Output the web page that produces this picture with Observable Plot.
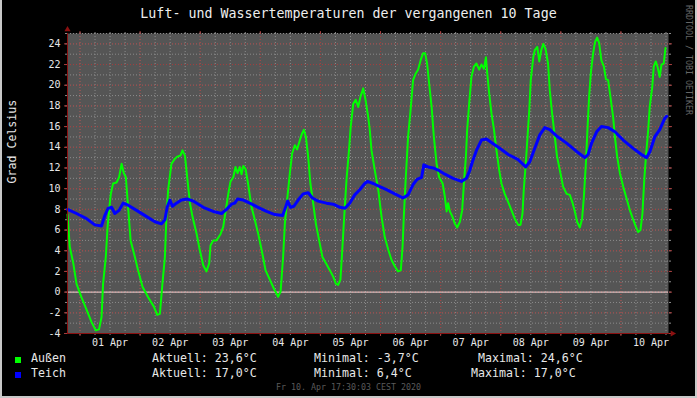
<!DOCTYPE html>
<html>
<head>
<meta charset="utf-8">
<script src="https://cdn.jsdelivr.net/npm/d3@7"></script>
<script src="https://cdn.jsdelivr.net/npm/@observablehq/plot@0.6"></script>
<style>
  body { margin: 0; background: #000; }
  #wrap { position: relative; width: 697px; height: 398px; background: #000; overflow: hidden;
          font-family: "DejaVu Sans Mono", monospace; color: #e8e8e8; }
  .edge { position: absolute; background: #c8c8c8; }
  #title { position: absolute; top: 6px; left: 0; width: 697px; text-align: center;
           font-size: 13.3px; line-height: 16px; white-space: pre; color: #eeeeee; }
  #chart { position: absolute; top: 24px; left: 0; }
  .lg { position: absolute; font-size: 11.6px; line-height: 14px; white-space: pre; }
  .sw { position: absolute; width: 6px; height: 6px; }
  #stamp { position: absolute; top: 382px; left: 0; width: 697px; text-align: center;
           font-size: 8.3px; line-height: 10px; color: #5a5a5a; white-space: pre; }
  #mark { position: absolute; left: 684px; top: 5px; writing-mode: vertical-rl;
          font-size: 8.3px; line-height: 10px; color: #666666; white-space: pre; }
</style>
</head>
<body>
<div id="wrap">
  <div class="edge" style="left:0;top:0;width:2px;height:398px"></div>
  <div class="edge" style="right:0;top:0;width:2px;height:398px"></div>
  <div class="edge" style="left:0;bottom:0;width:697px;height:2px"></div>
  <div id="title"></div>
  <div id="chart"></div>
  <div id="legend"></div>
  <div id="stamp"></div>
  <div id="mark"></div>
</div>
<script>
// ---------- data (hours after 31 Mar 19:00, °C) ----------
const titleText = "Luft- und Wassertemperaturen der vergangenen 10 Tage";
const yAxisLabel = "Grad Celsius";
const stampText = "Fr 10. Apr 17:30:03 CEST 2020";
const watermark = "RRDTOOL / TOBI OETIKER";
const dayLabels = ["01 Apr","02 Apr","03 Apr","04 Apr","05 Apr","06 Apr","07 Apr","08 Apr","09 Apr","10 Apr"];

const aussen = [
  [0,7.5],[0.9,4.4],[2.3,2.8],[3.6,0.8],[5.6,-0.5],[7.6,-1.7],[9.6,-2.9],[11.3,-3.7],[12.6,-3.6],[13.6,-2.4],
  [14.2,0.8],[15.3,3.4],[16.0,6.3],[16.6,7.9],[17.3,9.5],[18.2,10.5],[19.6,10.6],[20.6,11.1],[21.6,12.4],[22.5,11.5],
  [23.3,11.1],[24.2,8.2],[25.2,5.0],[26.9,3.4],[28.2,2.1],[30.0,0.5],[32.2,-0.5],[34.5,-1.4],[35.8,-2.2],[36.9,-2.1],
  [37.9,0.8],[38.9,3.4],[39.5,7.3],[40.2,9.9],[41.5,12.4],[42.9,12.9],[43.9,13.1],[45.1,13.2],[45.9,13.7],[46.9,13.2],
  [47.8,11.1],[48.9,8.6],[49.9,7.3],[51.5,5.7],[52.8,4.1],[54.2,2.6],[55.5,2.0],[56.6,2.8],[57.1,4.5],[58.2,5.0],
  [59.5,5.0],[61.1,5.6],[62.2,6.3],[63.2,7.9],[64.2,9.5],[65.1,10.7],[66.2,11.1],[67.1,12.1],[67.9,11.5],[68.8,12.1],
  [69.5,11.4],[70.2,12.2],[71.1,11.9],[72.1,10.5],[73.5,8.2],[74.8,7.0],[76.1,5.7],[77.5,4.1],[79.1,2.1],[80.8,1.2],
  [82.4,0.35],[84.1,-0.45],[85.1,0.05],[86.1,3.4],[86.8,6.6],[87.7,8.9],[88.8,11.5],[89.7,13.4],[90.8,14.2],[91.7,13.8],
  [92.8,14.7],[93.6,15.3],[94.4,15.7],[95.2,15.0],[96.1,13.1],[97.0,10.5],[98.1,8.6],[99.2,6.6],[100.5,5.0],[101.8,3.4],
  [103.2,2.8],[104.8,2.1],[106.1,1.5],[107.2,0.8],[108.1,0.7],[109.0,1.2],[109.8,4.4],[110.5,7.3],[111.4,10.8],[112.5,14.0],
  [113.1,16.0],[114.1,18.2],[115.1,18.6],[116.1,17.9],[117.0,18.9],[118.1,19.7],[119.0,18.6],[120.1,16.9],
  [120.7,15.7],[121.4,13.7],[122.7,11.8],[124.1,9.9],[125.4,7.3],[126.7,5.3],[128.1,4.1],[129.4,3.1],[130.7,2.5],[132.0,2.0],
  [133.1,2.1],[133.8,4.4],[134.3,7.3],[135.1,11.1],[136.0,15.0],[137.0,17.6],[138.0,20.5],[139.0,21.1],[140.0,21.5],[141.0,22.4],
  [142.0,23.1],[142.8,23.1],[143.6,22.1],[144.4,20.2],[145.4,17.9],[146.3,15.0],[147.4,12.4],[148.4,11.1],[149.8,10.5],[150.7,9.2],
  [151.4,7.8],[152.0,8.6],[152.7,7.8],[153.7,7.3],[154.7,6.6],[155.6,6.25],[156.7,6.8],[157.6,7.9],[158.3,10.5],[159.1,13.1],
  [159.6,15.7],[160.4,18.2],[161.3,20.8],[162.3,21.8],[163.3,22.1],[164.4,21.5],[165.3,22.0],[166.3,21.6],[167.1,22.7],[167.6,21.2],
  [168.4,19.2],[169.3,17.3],[170.3,15.7],[171.3,13.7],[172.4,11.8],[173.3,10.5],[174.6,9.5],[176.0,8.7],[177.3,7.9],[178.6,7.1],
  [180.0,6.5],[180.9,6.5],[181.7,7.6],[182.2,9.9],[183.0,12.4],[183.7,15.0],[184.4,17.6],[185.0,20.5],[186.0,22.7],[186.6,23.4],
  [187.6,23.7],[188.4,22.3],[189.2,23.4],[190.0,24.0],[190.9,23.5],[191.9,22.1],[192.6,19.5],[193.5,17.3],[194.6,15.0],[195.5,13.1],
  [196.6,11.8],[197.9,10.2],[199.3,9.5],[200.6,9.4],[201.7,8.6],[202.6,7.8],[203.5,6.8],[204.6,6.25],[205.5,7.1],[206.2,9.2],
  [207.0,12.4],[207.7,16.0],[208.3,18.9],[209.0,21.2],[209.9,23.1],[210.7,24.2],[211.5,24.6],[212.3,24.1],[213.2,22.4],[214.2,21.8],
  [215.0,20.6],[215.9,20.5],[216.8,18.9],[217.9,16.9],[218.6,15.0],[219.5,13.1],[220.6,11.5],[221.9,10.2],[223.2,9.1],[224.6,7.9],
  [225.9,7.0],[227.0,6.3],[227.9,5.8],[228.8,6.0],[229.6,7.6],[230.3,10.8],[231.0,13.1],[231.9,15.7],[232.5,17.9],[233.5,19.8],
  [234.1,21.8],[234.9,22.3],[235.6,21.8],[236.5,20.8],[237.2,22.0],[238.1,22.1],[238.8,23.6]
];

const teich = [
  [0,8.0],[3.6,7.6],[7.6,7.1],[10.9,6.5],[13.6,6.4],[14.9,7.4],[16.2,8.1],[17.6,8.2],[18.9,7.6],[20.6,7.9],
  [22.2,8.6],[24.2,8.4],[27.6,7.9],[31.6,7.3],[34.9,6.8],[37.5,6.6],[38.9,7.0],[39.8,8.2],[40.9,8.9],[41.9,8.3],
  [43.5,8.6],[45.5,8.9],[47.8,9.0],[50.2,8.8],[54.2,8.2],[58.2,7.8],[61.5,7.6],[63.5,8.0],[65.5,8.5],[66.8,8.6],
  [67.9,9.0],[70.2,8.9],[72.8,8.6],[76.1,8.2],[79.5,7.8],[82.8,7.5],[85.9,7.4],[86.8,8.0],[87.9,8.8],[89.1,8.2],
  [90.4,8.3],[92.1,8.9],[94.1,9.5],[96.1,9.6],[97.8,9.1],[100.1,8.8],[103.4,8.6],[106.1,8.5],[108.8,8.2],[110.8,8.1],
  [112.7,8.6],[114.7,9.4],[116.7,9.9],[118.7,10.5],[119.8,10.7],[122.1,10.5],[124.7,10.2],[127.4,9.9],[130.7,9.5],[134.0,9.1],
  [136.0,9.4],[138.0,10.4],[139.6,10.9],[141.4,11.1],[142.3,12.3],[144.0,12.1],[146.0,12.0],[148.0,11.8],[150.7,11.4],[154.0,11.0],
  [157.3,10.7],[159.3,11.0],[160.7,11.8],[161.7,12.6],[163.3,13.7],[165.3,14.7],[167.3,14.8],[169.7,14.4],[172.6,13.9],[176.0,13.3],
  [180.0,12.8],[183.0,12.1],[184.6,12.6],[186.6,13.9],[188.6,15.2],[190.6,15.9],[192.6,15.7],[195.3,15.1],[199.3,14.4],[203.3,13.6],
  [206.6,13.0],[207.9,13.3],[209.3,14.4],[211.3,15.5],[213.2,16.0],[215.9,15.9],[218.6,15.5],[221.9,14.7],[225.9,13.9],[229.2,13.3],
  [231.2,13.0],[232.6,13.6],[234.5,15.0],[236.5,15.7],[238.5,16.8],[239.3,17.0]
];

const legendNames = ["Außen", "Teich"];
const legendColors = ["#00ff00", "#0000ff"];
const legendAktuell = ["23,6", "17,0"];
const legendMinimal = ["-3,7", "6,4"];
const legendMaximal = ["24,6", "17,0"];
const zeroLine = [0];

// ---------- derived ----------
const t0 = new Date(Date.UTC(2020, 2, 31, 19, 0));
const t1 = new Date(Date.UTC(2020, 3, 10, 19, 0));
const toDate = h => new Date(+t0 + h * 3600e3);
const aussenData = aussen.map(([h, v]) => ({t: toDate(h), v}));
const teichData = teich.map(([h, v]) => ({t: toDate(h), v}));

const xMinor = d3.utcHour.every(6).range(t0, t1);
const xMajor = d3.utcDay.range(t0, t1);
const labelDates = dayLabels.map((s, i) => new Date(Date.UTC(2020, 3, i + 1, 12)));
const labelByTime = new Map(labelDates.map((d, i) => [+d, dayLabels[i]]));
const yMinor = d3.range(-4, 26, 1);
const yMajor = d3.range(-4, 25, 2);

const MINOR = "#8c8c8c";
const MAJOR = "#a43c3c";
const AXIS = "#8b1010";
const TEXT = "#e8e8e8";

const chart = Plot.plot({
  width: 697,
  height: 336,
  marginTop: 9,
  marginRight: 29,
  marginBottom: 27,
  marginLeft: 67,
  style: {background: "transparent", fontFamily: "DejaVu Sans Mono", fontSize: "10px", color: TEXT, overflow: "visible"},
  x: {type: "utc", domain: [t0, t1], label: null},
  y: {domain: [-4, 25], label: null},
  marks: [
    Plot.frame({fill: "#555555", stroke: null}),
    Plot.gridX(xMinor, {stroke: MINOR, strokeOpacity: 1, strokeDasharray: "1,2"}),
    Plot.gridY(yMinor, {stroke: MINOR, strokeOpacity: 1, strokeDasharray: "1,2"}),
    Plot.gridX(xMajor, {stroke: MAJOR, strokeOpacity: 1, strokeDasharray: "1,2"}),
    Plot.gridY(yMajor, {stroke: MAJOR, strokeOpacity: 1, strokeDasharray: "1,2"}),
    Plot.axisX(xMinor, {anchor: "bottom", tickSize: 2, tickFormat: () => "", stroke: MINOR, label: null}),
    Plot.axisX(xMinor, {anchor: "top", tickSize: 2, tickFormat: () => "", stroke: MINOR, label: null}),
    Plot.axisX(xMajor, {anchor: "bottom", tickSize: 3, tickFormat: () => "", stroke: MAJOR, label: null}),
    Plot.axisX(xMajor, {anchor: "top", tickSize: 3, tickFormat: () => "", stroke: MAJOR, label: null}),
    Plot.axisY(yMinor, {anchor: "left", tickSize: 2, tickFormat: () => "", stroke: MINOR, label: null}),
    Plot.axisY(yMinor, {anchor: "right", tickSize: 2, tickFormat: () => "", stroke: MINOR, label: null}),
    Plot.axisY(yMajor, {anchor: "left", tickSize: 3, tickFormat: () => "", stroke: MAJOR, label: null}),
    Plot.axisY(yMajor, {anchor: "right", tickSize: 3, tickFormat: () => "", stroke: MAJOR, label: null}),
    Plot.ruleY(zeroLine, {stroke: "#f0d4d4", strokeWidth: 1}),
    Plot.line(aussenData, {x: "t", y: "v", stroke: legendColors[0], strokeWidth: 2}),
    Plot.line(teichData, {x: "t", y: "v", stroke: legendColors[1], strokeWidth: 3}),
    Plot.frame({anchor: "left", stroke: AXIS}),
    Plot.frame({anchor: "bottom", stroke: AXIS}),
    Plot.axisY(yMajor, {anchor: "left", tickSize: 0, tickPadding: 7, tickFormat: d => String(d), fill: TEXT, fontSize: 10, label: null}),
    Plot.axisX(labelDates, {anchor: "bottom", tickSize: 0, tickPadding: 5, tickFormat: d => labelByTime.get(+d), fill: TEXT, fontSize: 10, label: null}),
    Plot.text([yAxisLabel], {frameAnchor: "left", rotate: -90, dx: -55, text: d => d, fill: TEXT, fontSize: 11.6}),
    Plot.dot([0], {frameAnchor: "top-left", symbol: "triangle", r: 2.3, fill: AXIS, stroke: null, dy: -4}),
    Plot.dot([0], {frameAnchor: "bottom-right", symbol: "triangle", rotate: 90, r: 2.3, fill: AXIS, stroke: null, dx: 4})
  ]
});
document.getElementById("chart").appendChild(chart);

document.getElementById("title").textContent = titleText;
document.getElementById("stamp").textContent = stampText;
document.getElementById("mark").textContent = watermark;

const legend = document.getElementById("legend");
const rowTops = [351, 366];
const maxLeft = [478, 471];
legendNames.forEach((name, i) => {
  const sw = document.createElement("div");
  sw.className = "sw";
  sw.style.left = "15px";
  sw.style.top = (rowTops[i] + 6) + "px";
  sw.style.background = legendColors[i];
  legend.appendChild(sw);
  const items = [
    [31, name],
    [152, "Aktuell: " + legendAktuell[i] + "°C"],
    [314, "Minimal: " + legendMinimal[i] + "°C"],
    [maxLeft[i], "Maximal: " + legendMaximal[i] + "°C"]
  ];
  items.forEach(([left, txt]) => {
    const el = document.createElement("div");
    el.className = "lg";
    el.style.left = left + "px";
    el.style.top = rowTops[i] + "px";
    el.textContent = txt;
    legend.appendChild(el);
  });
});
</script>
</body>
</html>
